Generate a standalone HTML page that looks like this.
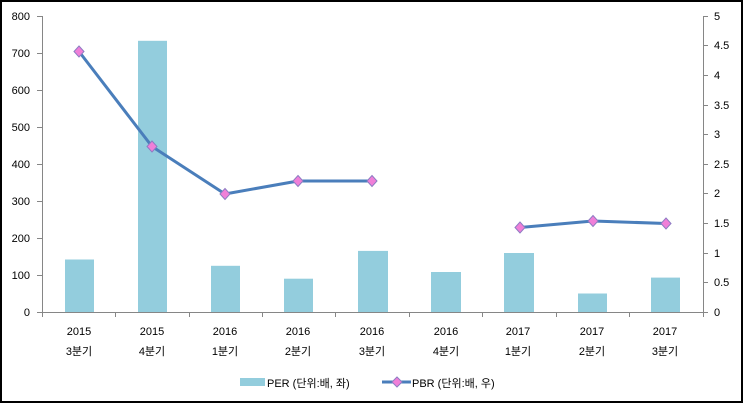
<!DOCTYPE html>
<html><head><meta charset="utf-8"><style>
html,body{margin:0;padding:0;background:#fff}
svg{display:block}
text{font-family:"Liberation Sans","Noto Sans CJK KR",sans-serif;font-size:11px;fill:#000}
</style></head><body>
<svg width="743" height="403" xmlns="http://www.w3.org/2000/svg">
<rect x="1" y="1" width="741" height="401" fill="#fff" stroke="#000" stroke-width="2"/>
<g fill="#93CDDD">
<rect x="65" y="259.5" width="29" height="52.5"/>
<rect x="138" y="40.8" width="29" height="271.2"/>
<rect x="211" y="265.8" width="29" height="46.2"/>
<rect x="284" y="278.7" width="29" height="33.3"/>
<rect x="358" y="250.9" width="30" height="61.1"/>
<rect x="431" y="272" width="30" height="40"/>
<rect x="504" y="253" width="30" height="59"/>
<rect x="578" y="293.5" width="29" height="18.5"/>
<rect x="651" y="277.6" width="29" height="34.4"/>
</g>
<g stroke="#868686" stroke-width="1" fill="none">
<path d="M42.5 16V312.5H703.5V16"/>
<path d="M37 16.5h5M37 53.5h5M37 90.5h5M37 127.5h5M37 164.5h5M37 201.5h5M37 238.5h5M37 275.5h5M37 312.5h5"/>
<path d="M703 16.5h5M703 45.5h5M703 75.5h5M703 105.5h5M703 134.5h5M703 164.5h5M703 193.5h5M703 223.5h5M703 253.5h5M703 282.5h5M703 312.5h5"/>
<path d="M42.5 312v5M115.5 312v5M189.5 312v5M262.5 312v5M335.5 312v5M409.5 312v5M482.5 312v5M556.5 312v5M629.5 312v5M703.5 312v5"/>
</g>
<g text-anchor="end">
<text x="30" y="20">800</text><text x="30" y="57">700</text><text x="30" y="94">600</text><text x="30" y="131">500</text><text x="30" y="168">400</text><text x="30" y="205">300</text><text x="30" y="242">200</text><text x="30" y="279">100</text><text x="30" y="316">0</text>
</g>
<g>
<text x="714" y="20">5</text><text x="714" y="49">4.5</text><text x="714" y="79">4</text><text x="714" y="109">3.5</text><text x="714" y="138">3</text><text x="714" y="168">2.5</text><text x="714" y="197">2</text><text x="714" y="227">1.5</text><text x="714" y="257">1</text><text x="714" y="286">0.5</text><text x="714" y="316">0</text>
</g>
<g text-anchor="middle">
<text x="79" y="335">2015</text><text x="79" y="355">3분기</text>
<text x="152" y="335">2015</text><text x="152" y="355">4분기</text>
<text x="225" y="335">2016</text><text x="225" y="355">1분기</text>
<text x="298" y="335">2016</text><text x="298" y="355">2분기</text>
<text x="372" y="335">2016</text><text x="372" y="355">3분기</text>
<text x="446" y="335">2016</text><text x="446" y="355">4분기</text>
<text x="518" y="335">2017</text><text x="518" y="355">1분기</text>
<text x="592" y="335">2017</text><text x="592" y="355">2분기</text>
<text x="665" y="335">2017</text><text x="665" y="355">3분기</text>
</g>
<g stroke="#4A7EBB" stroke-width="3" fill="none" stroke-linejoin="round">
<polyline points="79,51.5 152,146.5 225,194 298,181 372,181"/>
<polyline points="520,227.5 593,221 666,223.5"/>
</g>
<g fill="#F07FD8" stroke="#8E7CC3" stroke-width="1">
<path d="M79 46l5 5.5-5 5.5-5-5.5z"/>
<path d="M152 141l5 5.5-5 5.5-5-5.5z"/>
<path d="M225 188.5l5 5.5-5 5.5-5-5.5z"/>
<path d="M298 175.5l5 5.5-5 5.5-5-5.5z"/>
<path d="M372 175.5l5 5.5-5 5.5-5-5.5z"/>
<path d="M520 222l5 5.5-5 5.5-5-5.5z"/>
<path d="M593 215.5l5 5.5-5 5.5-5-5.5z"/>
<path d="M666 218l5 5.5-5 5.5-5-5.5z"/>
</g>
<rect x="240" y="378" width="25" height="8" fill="#93CDDD"/>
<text x="267" y="387">PER (단위:배, 좌)</text>
<line x1="382" y1="382" x2="411" y2="382" stroke="#4A7EBB" stroke-width="3"/>
<path d="M397 377l5 5-5 5-5-5z" fill="#F07FD8" stroke="#8E7CC3"/>
<text x="412" y="387">PBR (단위:배, 우)</text>
</svg>
</body></html>
